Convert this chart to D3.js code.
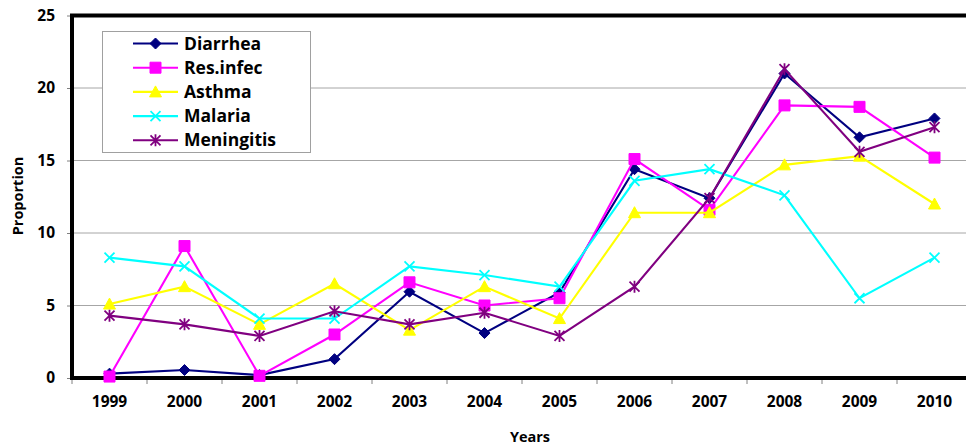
<!DOCTYPE html>
<html>
<head>
<meta charset="utf-8">
<script src="https://cdn.jsdelivr.net/npm/d3@7/dist/d3.min.js"></script>
<style>
  html, body { margin: 0; padding: 0; background: #fff; }
  svg { display: block; }
  text { font-family: "Open Sans", "DejaVu Sans", sans-serif; font-weight: bold; fill: #000; }
</style>
</head>
<body>
<svg id="chart" width="966" height="446"></svg>
<script>
// Years on the horizontal axis
const years = ["1999", "2000", "2001", "2002", "2003", "2004", "2005", "2006", "2007", "2008", "2009", "2010"];

// Proportion per disease per year
const diarrhea   = [0.3, 0.55, 0.2, 1.3, 5.95, 3.1, 5.9, 14.4, 12.4, 21.0, 16.6, 17.9];
const resInfec   = [0.1, 9.1, 0.15, 3.0, 6.6, 5.0, 5.5, 15.1, 11.6, 18.8, 18.7, 15.2];
const asthma     = [5.1, 6.3, 3.7, 6.5, 3.3, 6.3, 4.1, 11.4, 11.4, 14.7, 15.3, 12.0];
const malaria    = [8.3, 7.7, 4.1, 4.1, 7.7, 7.1, 6.3, 13.6, 14.4, 12.6, 5.5, 8.3];
const meningitis = [4.3, 3.7, 2.9, 4.6, 3.7, 4.5, 2.9, 6.3, 12.4, 21.3, 15.6, 17.3];

const seriesNames = ["Diarrhea", "Res.infec", "Asthma", "Malaria", "Meningitis"];
const yTicks = [0, 5, 10, 15, 20, 25];

const series = [
  { name: seriesNames[0], values: diarrhea,   color: "#000080", marker: "diamond" },
  { name: seriesNames[1], values: resInfec,   color: "#FF00FF", marker: "square" },
  { name: seriesNames[2], values: asthma,     color: "#FFFF00", marker: "triangle" },
  { name: seriesNames[3], values: malaria,    color: "#00FFFF", marker: "x" },
  { name: seriesNames[4], values: meningitis, color: "#800080", marker: "star" }
];

const svg = d3.select("#chart");
const plotLeft = 72, plotRight = 972, plotTop = 15.5, plotBottom = 378;

const x = d3.scaleBand().domain(years).range([plotLeft, plotRight]).padding(0);
const y = d3.scaleLinear().domain([0, 25]).range([plotBottom, plotTop]);

// Gridlines
svg.append("g")
  .selectAll("line")
  .data(yTicks.filter(t => t > 0 && t < 25))
  .join("line")
  .attr("x1", plotLeft).attr("x2", plotRight)
  .attr("y1", d => y(d)).attr("y2", d => y(d))
  .attr("stroke", "#a6a6a6").attr("stroke-width", 1);

// Y axis ticks and labels
const yAxis = d3.axisLeft(y).tickValues(yTicks).tickSize(5).tickPadding(12);
const gy = svg.append("g").attr("transform", `translate(${plotLeft},0)`).call(yAxis);
gy.select(".domain").remove();
gy.selectAll(".tick line").attr("stroke", "#808080");
gy.selectAll(".tick text").style("font-size", "15.5px").style("font-family", "'Open Sans', sans-serif").style("font-weight", "bold").attr("fill", "#000");

// X axis: ticks at category boundaries
const boundaries = years.map(d => x(d)).concat([plotRight]);
svg.append("g")
  .selectAll("line")
  .data(boundaries)
  .join("line")
  .attr("x1", d => d).attr("x2", d => d)
  .attr("y1", plotBottom).attr("y2", plotBottom + 6)
  .attr("stroke", "#808080").attr("stroke-width", 1);

svg.append("g")
  .selectAll("text")
  .data(years)
  .join("text")
  .attr("x", d => x(d) + x.bandwidth() / 2)
  .attr("y", 407)
  .attr("text-anchor", "middle")
  .style("font-size", "15.5px")
  .text(d => d);

// Plot area frame
svg.append("rect")
  .attr("x", plotLeft).attr("y", plotTop)
  .attr("width", plotRight - plotLeft).attr("height", plotBottom - plotTop)
  .attr("fill", "none").attr("stroke", "#000").attr("stroke-width", 4);

// Axis titles
svg.append("text")
  .attr("x", 530).attr("y", 442)
  .attr("text-anchor", "middle")
  .style("font-size", "14.5px")
  .text("Years");

svg.append("text")
  .attr("transform", "translate(22.5,196) rotate(-90)")
  .attr("text-anchor", "middle")
  .style("font-size", "14.5px")
  .text("Proportion");

// Marker shapes
function markerPath(type) {
  switch (type) {
    case "diamond": return "M0,-5.5L5.5,0L0,5.5L-5.5,0Z";
    case "square": return "M-5.5,-5.5H5.5V5.5H-5.5Z";
    case "triangle": return "M0,-6L6,5H-6Z";
    case "x": return "M-5,-5L5,5M-5,5L5,-5";
    case "star": return "M-5,-5L5,5M-5,5L5,-5M0,-6V6";
  }
}
function drawMarker(g, type, color, cx, cy) {
  const filled = type === "diamond" || type === "square" || type === "triangle";
  g.append("path")
    .attr("d", markerPath(type))
    .attr("transform", `translate(${cx},${cy})`)
    .attr("fill", filled ? color : "none")
    .attr("stroke", color)
    .attr("stroke-width", filled ? 1 : 1.8);
}

const line = d3.line()
  .x((d, i) => x(years[i]) + x.bandwidth() / 2)
  .y(d => y(d));

const plot = svg.append("g");
series.forEach(s => {
  const g = plot.append("g");
  g.append("path")
    .attr("d", line(s.values))
    .attr("fill", "none")
    .attr("stroke", s.color)
    .attr("stroke-width", 2.1);
  s.values.forEach((v, i) => {
    drawMarker(g, s.marker, s.color, x(years[i]) + x.bandwidth() / 2, y(v));
  });
});

// Legend
const legend = svg.append("g");
legend.append("rect")
  .attr("x", 102.5).attr("y", 31.5).attr("width", 208).attr("height", 121)
  .attr("fill", "#fff").attr("stroke", "#a0a0a0").attr("stroke-width", 1);
series.forEach((s, i) => {
  const ly = 43.5 + i * 24.2;
  const g = legend.append("g");
  g.append("line")
    .attr("x1", 133).attr("x2", 178).attr("y1", ly).attr("y2", ly)
    .attr("stroke", s.color).attr("stroke-width", 2.1);
  drawMarker(g, s.marker, s.color, 155.5, ly);
  g.append("text")
    .attr("x", 184).attr("y", ly + 6)
    .style("font-size", "17.5px")
    .text(s.name);
});
</script>
</body>
</html>
